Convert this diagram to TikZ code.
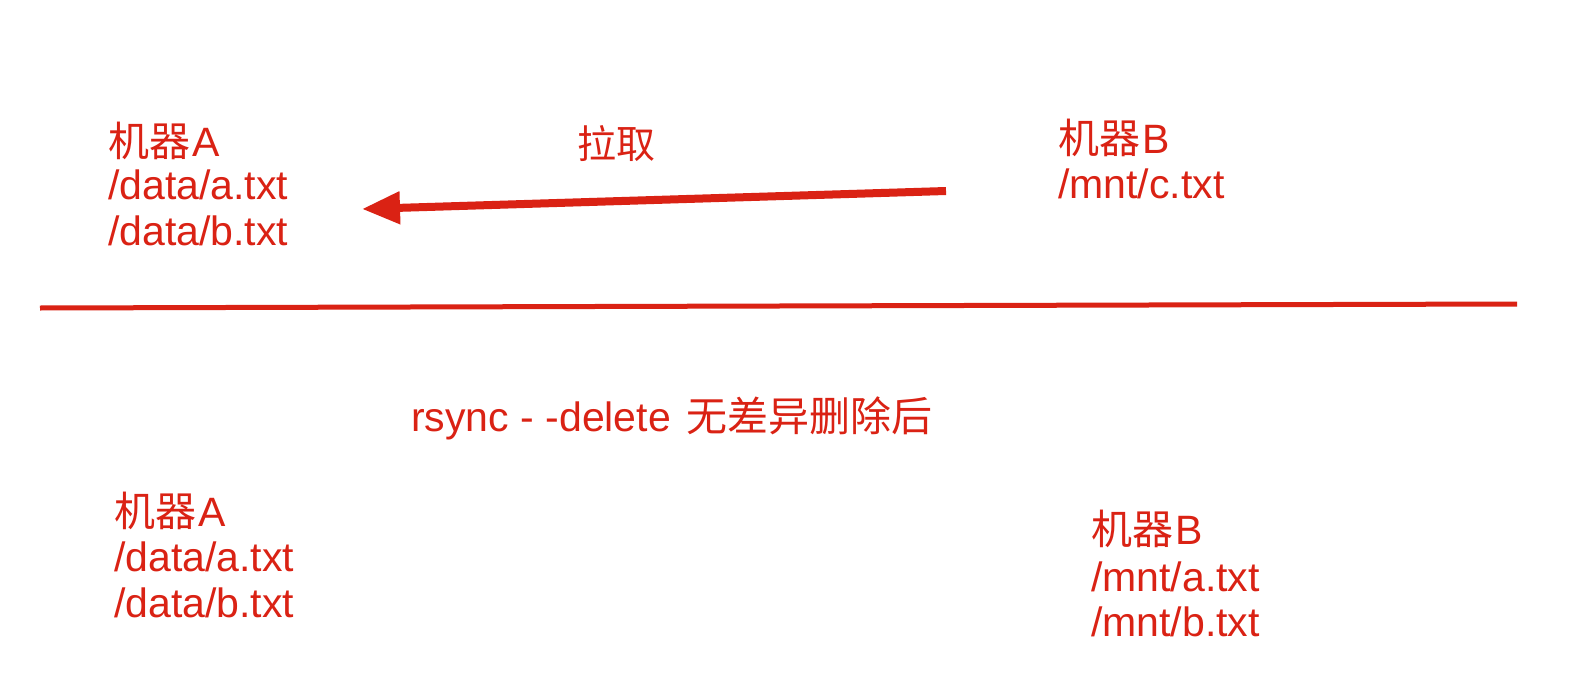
\documentclass[tikz,border=0pt]{standalone}
\usepackage{fontspec}
\setmainfont{Liberation Sans}
\newfontfamily\cjk{Noto Sans CJK SC}
\usetikzlibrary{arrows.meta}
\definecolor{myred}{RGB}{218,34,20}
\begin{document}
\begin{tikzpicture}[x=1pt,y=-1pt,
  lbl/.style={anchor=base west,inner sep=0pt,text=myred,font=\fontsize{41}{45}\selectfont},
  cn/.style={font=\fontsize{39}{45}\selectfont\cjk}]
\useasboundingbox[fill=white] (0,0) rectangle (1578,682);
% top
\node[lbl] (a1) at (108,156) {{\cjk 机器}\hspace{2pt}A};
\node[lbl] (a2) at (108,199) {/data/a.txt};
\node[lbl] (a3) at (108,245) {/data/b.txt};
\node[lbl,cn] (pull) at (577,158) {拉取};
\node[lbl] (b1) at (1058,153) {{\cjk 机器}\hspace{2pt}B};
\node[lbl] (b2) at (1058,198) {/mnt/c.txt};
\coordinate (as) at (946,191);
\coordinate (ae) at (362,209);
\draw[myred,line width=8pt,-{Triangle[length=38pt,width=31pt]}] (as) -- (ae);
% divider
\coordinate (dl) at (40,308);
\coordinate (dr) at (1517,304);
\draw[myred,line width=5pt] (dl) -- (dr);
% bottom
\node[lbl] (rs) at (411,431) {rsync - -delete\hspace{16pt}{\cjk 无差异删除后}};
\node[lbl] (c1) at (114,526) {{\cjk 机器}\hspace{2pt}A};
\node[lbl] (c2) at (114,571) {/data/a.txt};
\node[lbl] (c3) at (114,617) {/data/b.txt};
\node[lbl] (d1) at (1091,544) {{\cjk 机器}\hspace{2pt}B};
\node[lbl] (d2) at (1091,591) {/mnt/a.txt};
\node[lbl] (d3) at (1091,636) {/mnt/b.txt};
\end{tikzpicture}
\end{document}
